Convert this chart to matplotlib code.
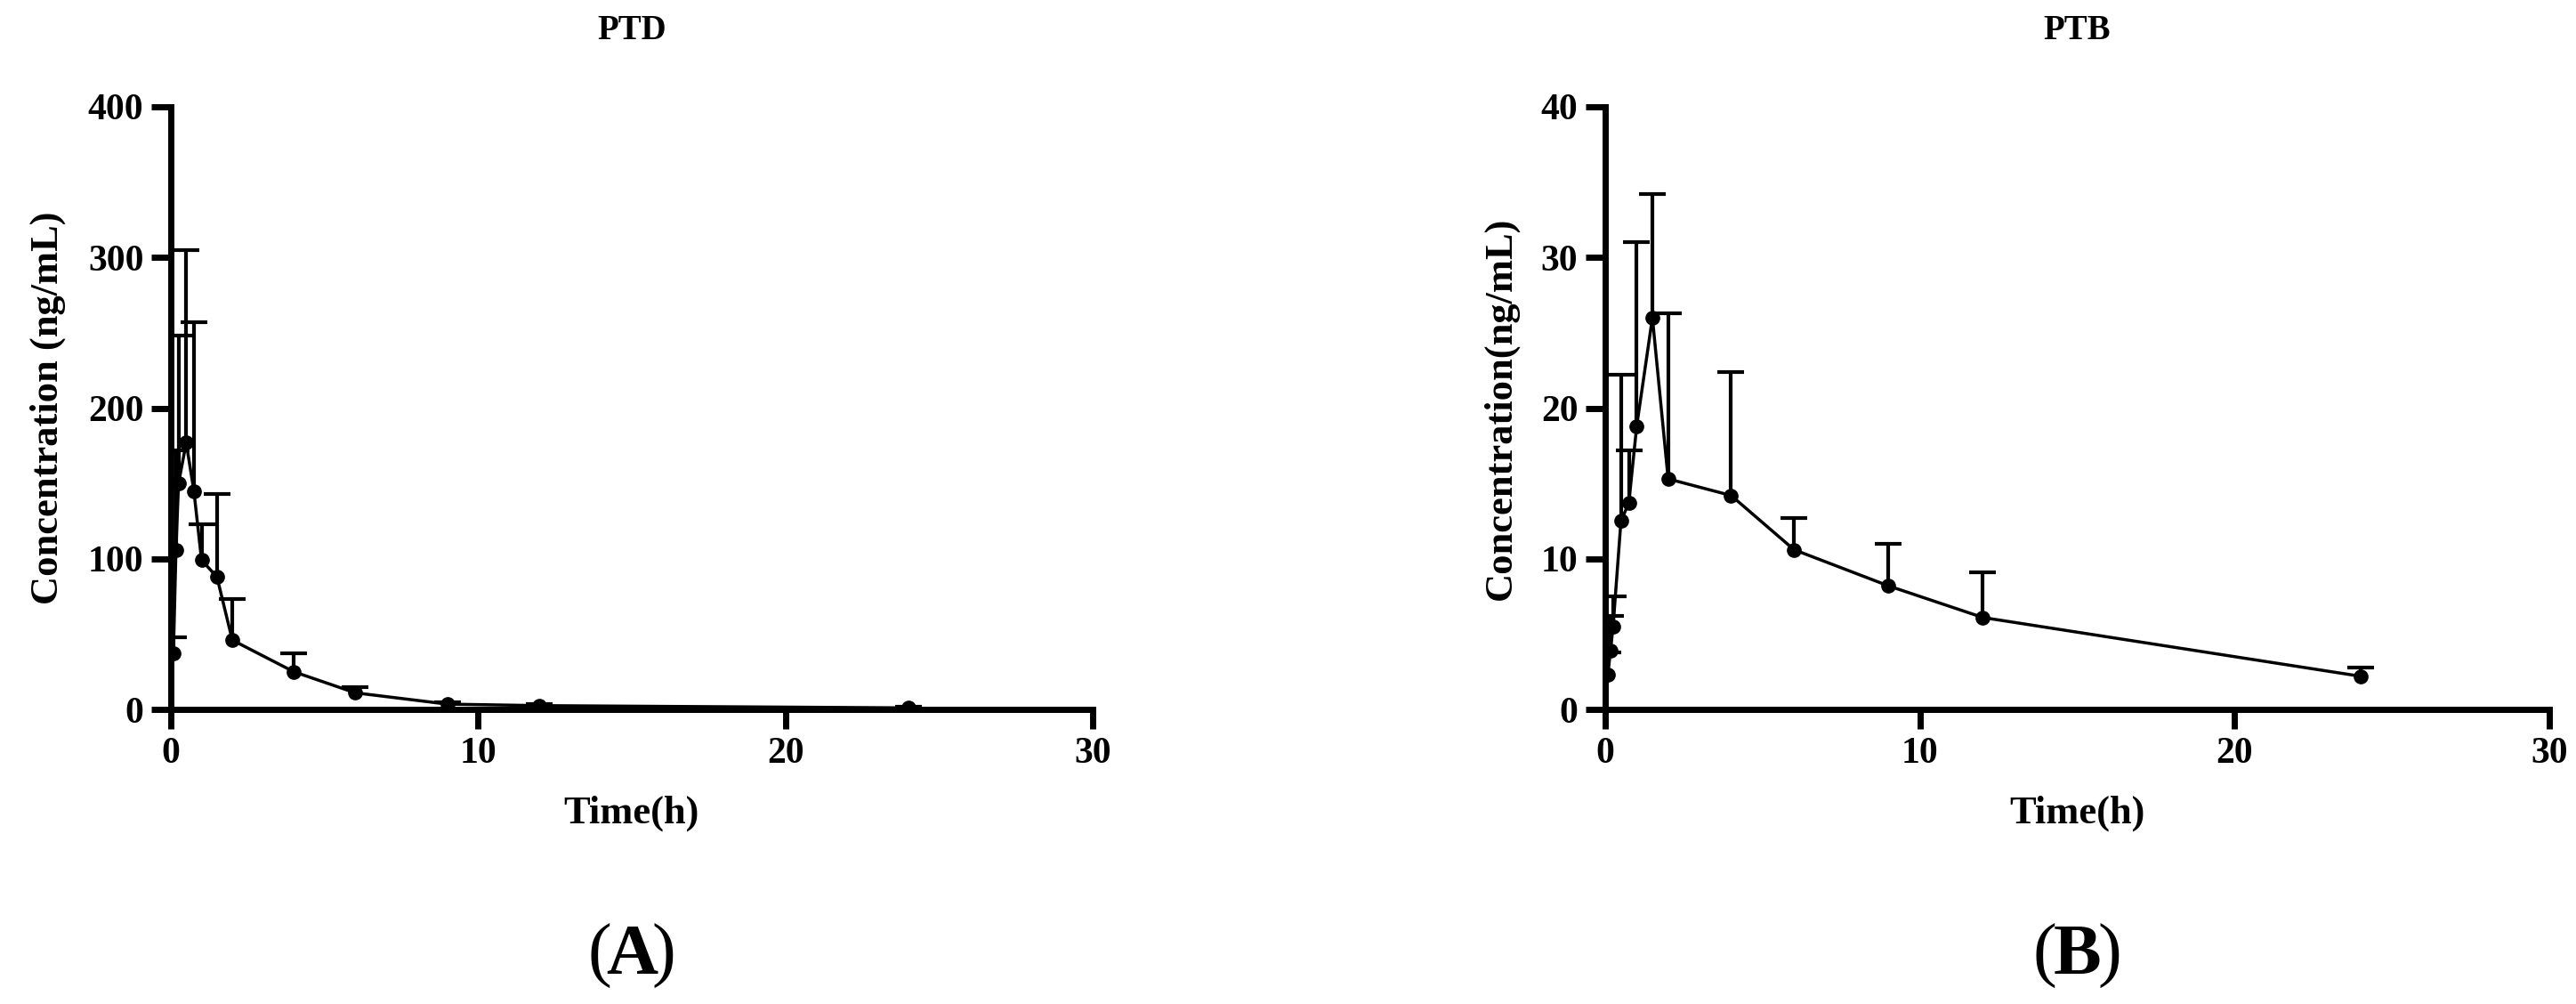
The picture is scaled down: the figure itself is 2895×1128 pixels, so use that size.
import matplotlib
matplotlib.use("Agg")
import matplotlib.pyplot as plt

plt.rcParams['font.family'] = ['Liberation Serif', 'DejaVu Serif']
plt.rcParams['font.weight'] = 'bold'

time = [0.083, 0.167, 0.25, 0.5, 0.75, 1, 1.5, 2, 4, 6, 9, 12, 24]
ptd_mean = [37, 106, 150, 177, 145, 99, 88, 46, 25, 11, 3.5, 2.5, 1.0]
ptd_sd = [11, 66, 98, 128, 112, 24, 55, 27, 12, 4, 1.5, 1.2, 0.5]
ptb_mean = [2.3, 3.9, 5.5, 12.5, 13.7, 18.8, 26.0, 15.3, 14.2, 10.6, 8.2, 6.1, 2.2]
ptb_sd = [1.5, 2.3, 2.0, 9.7, 3.5, 12.2, 8.2, 11.0, 8.2, 2.1, 2.8, 3.0, 0.6]

fig = plt.figure(figsize=(28.95, 11.28), dpi=100)
W, H = 2895, 1128
axA = fig.add_axes([192/W, 1-797/H, (1228-192)/W, (797-120)/H])
axB = fig.add_axes([1804/W, 1-797/H, (2865-1804)/W, (797-120)/H])

def draw(ax, m, s, ymax, ylabel, title, tag):
    tops = [a + b for a, b in zip(m, s)]
    ax.vlines(time, m, tops, color='black', lw=3)
    ax.plot(time, tops, '_', color='black', ms=22, mew=3)
    ax.plot(time, m, color='black', lw=2.5, marker='o', ms=11)
    ax.set_xlim(0, 30)
    ax.set_ylim(0, ymax)
    ax.set_xticks([0, 10, 20, 30])
    yt = [0, ymax/4, ymax/2, 3*ymax/4, ymax]
    ax.set_yticks(yt)
    ax.set_yticklabels([str(int(v)) for v in yt])
    for sp in ['top', 'right']:
        ax.spines[sp].set_visible(False)
    for sp in ['left', 'bottom']:
        ax.spines[sp].set_linewidth(5)
    ax.tick_params(width=5, length=16, labelsize=30, pad=6)
    for lab in ax.get_xticklabels() + ax.get_yticklabels():
        lab.set_fontweight('bold')
    ax.set_xlabel('Time(h)', fontsize=32, fontweight='bold', labelpad=20)
    ax.set_ylabel(ylabel, fontsize=32, fontweight='bold', labelpad=18)
    ax.set_title(title, fontsize=28, fontweight='bold', pad=55)
    ax.text(0.5, -0.41, '(', transform=ax.transAxes, ha='right', va='center',
            fontsize=58, fontweight='normal')
    ax.text(0.5, -0.41, tag, transform=ax.transAxes, ha='center', va='center',
            fontsize=58, fontweight='bold')

draw(axA, ptd_mean, ptd_sd, 400, 'Concentration (ng/mL)', 'PTD', 'A')
draw(axB, ptb_mean, ptb_sd, 40, 'Concentration(ng/mL)', 'PTB', 'B')
# adjust parentheses around letters
for ax in (axA, axB):
    t_open, t_letter = ax.texts[-2], ax.texts[-1]
    t_open.set_position((0.5 - 0.022, -0.41))
    ax.text(0.5 + 0.022, -0.41, ')', transform=ax.transAxes, ha='left', va='center',
            fontsize=58, fontweight='normal')
fig.savefig('out.png', dpi=100)
